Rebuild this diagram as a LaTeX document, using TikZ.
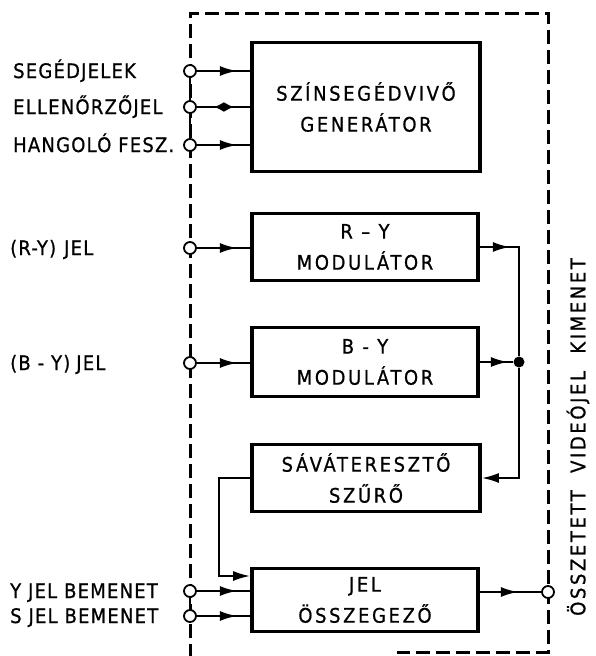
\documentclass[tikz,border=0pt]{standalone}
\usepackage{fontspec}
\setmainfont{DejaVu Sans}[FakeStretch=0.9, FakeBold=0.8, LetterSpace=13]
\newfontfamily\cimke{DejaVu Sans}[FakeStretch=0.9, FakeBold=0.8, LetterSpace=6]
\usetikzlibrary{arrows.meta, positioning, decorations.markings}

\begin{document}
\begin{tikzpicture}[x=1pt, y=-1pt, font=\fontsize{20}{31}\selectfont,
        blokk/.style={draw, line width=3.8pt, align=center, inner sep=0pt},
        kapocs/.style={circle, draw, fill=white, line width=1.8pt, inner sep=0pt, minimum size=12pt},
        felirat/.style={anchor=base west, inner sep=0pt, font=\fontsize{20}{24}\cimke},
        jel/.style={line width=2pt},
        nyil/.style={jel, postaction={decorate}, decoration={markings,
            mark=at position #1 with {\arrow{Latex[length=17pt,width=10pt]}}}}]
        \useasboundingbox (0,0) rectangle (595,656);
        % keret
        \draw[line width=3pt, dash pattern=on 14pt off 6pt] (190,658) -- (190,13) -- (548,13) -- (548,652) -- (397,652);
        % blokkok
        \node[blokk, minimum width=228pt, minimum height=129pt] (gen) at (366,107) {SZÍNSEGÉDVIVŐ\\GENERÁTOR};
        \node[blokk, minimum width=226pt, minimum height=67pt] (ry) at (365,247) {R – Y\\MODULÁTOR};
        \node[blokk, minimum width=226pt, minimum height=69pt] (by) at (365,362) {B - Y\\MODULÁTOR};
        \node[blokk, minimum width=228pt, minimum height=67pt] (szuro) at (366,478) {SÁVÁTERESZTŐ\\SZŰRŐ};
        \node[blokk, minimum width=226pt, minimum height=63pt] (osszeg) at (365,600) {JEL\\ÖSSZEGEZŐ};
        % kapcsok
        \node[kapocs] (kSeged) at (190,71) {};
        \node[kapocs] (kEllen) at (190,107) {};
        \node[kapocs] (kHang) at (190,145) {};
        \node[kapocs] (kRY) at (190,248) {};
        \node[kapocs] (kBY) at (190,363) {};
        \node[kapocs] (kY) at (190,591) {};
        \node[kapocs] (kS) at (190,616) {};
        \node[kapocs] (kKi) at (548,592) {};
        \node[circle, fill, inner sep=0pt, minimum size=11pt] (csomo) at (519,362) {};
        \coordinate (kanyar) at (219,576);
        \draw[line width=2.6pt] (kSeged) -- (kEllen) -- (kHang);
        \draw[line width=2.6pt] (kY) -- (kS);
        % feliratok
        \node[felirat] (tSeged) at (13,78) {SEGÉDJELEK};
        \node[felirat] (tEllen) at (13,114) {ELLENŐRZŐJEL};
        \node[felirat] (tHang) at (13,152) {HANGOLÓ FESZ.};
        \node[felirat] (tRY) at (10,255) {(R-Y)\hspace{8pt}JEL};
        \node[felirat] (tBY) at (10,370) {(B - Y)\hspace{6pt}JEL};
        \node[felirat] (tY) at (10,598) {Y JEL BEMENET};
        \node[felirat] (tS) at (10,623) {S JEL BEMENET};
        \node[rotate=90] (tKi) at (578,437) {ÖSSZETETT\hspace{9pt} VIDEÓJEL\hspace{9pt} KIMENET};
        % vonalak
        \draw[nyil=40pt] (kSeged) -- (kSeged -| gen.west);
        \draw[jel, postaction={decorate}, decoration={markings,
            mark=at position 17pt with {\arrowreversed{Latex[length=10pt,width=10pt]}},
            mark=at position 37pt with {\arrow{Latex[length=10pt,width=10pt]}}}] (kEllen) -- (kEllen -| gen.west);
        \draw[nyil=40pt] (kHang) -- (kHang -| gen.west);
        \draw[nyil=40pt] (kRY) -- (kRY -| ry.west);
        \draw[nyil=40pt] (kBY) -- (kBY -| by.west);
        \draw[nyil=30pt] (ry.east) -- (ry.east -| csomo) -- (csomo);
        \draw[nyil=28pt] (by.east) -- (csomo);
        \draw[jel, -{Latex[length=17pt,width=10pt]}] (csomo) |- (szuro.east);
        \draw[jel, -{Latex[length=17pt,width=10pt]}] (szuro.west) -| (kanyar) -- (kanyar -| osszeg.west);
        \draw[nyil=40pt] (kY) -- (kY -| osszeg.west);
        \draw[nyil=40pt] (kS) -- (kS -| osszeg.west);
        \draw[nyil=38pt] (kKi -| osszeg.east) -- (kKi);
\end{tikzpicture}
\end{document}
